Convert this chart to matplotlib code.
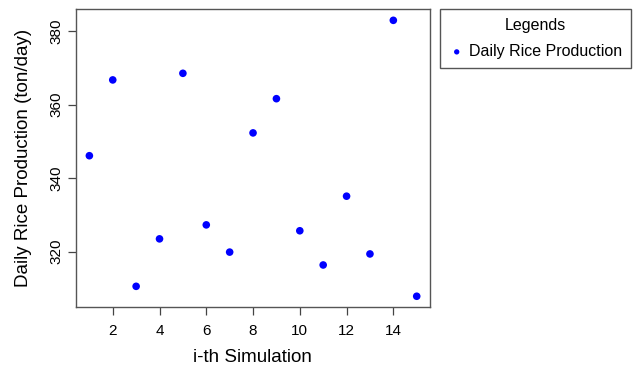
import numpy as np
import matplotlib
matplotlib.use("Agg")
from matplotlib import pyplot as plt

# data
simulation = list(range(1, 16))
production = [346.1, 366.7, 310.6, 323.5, 368.5, 327.3, 319.9, 352.3,
              361.6, 325.7, 316.4, 335.1, 319.4, 382.9, 307.9]
x_ticks = [2, 4, 6, 8, 10, 12, 14]
y_ticks = [320, 340, 360, 380]

plt.rcParams['font.family'] = ['Liberation Sans', 'DejaVu Sans']

fig = plt.figure(figsize=(6.33, 3.67), dpi=100)
ax = fig.add_axes([0.1205, 0.1627, 0.5585, 0.812])

ax.scatter(simulation, production, s=30, color='#0000ff', edgecolors='none',
           label='Daily Rice Production', zorder=3)

# R-style 4% padding
xr = max(simulation) - min(simulation)
yr = max(production) - min(production)
ax.set_xlim(min(simulation) - 0.04 * xr, max(simulation) + 0.04 * xr)
ax.set_ylim(min(production) - 0.04 * yr, max(production) + 0.04 * yr)

ax.set_xticks(x_ticks)
ax.set_yticks(y_ticks)
ax.tick_params(axis='both', direction='out', length=5.5, width=0.9,
               color='#444444', labelsize=11)
ax.tick_params(axis='x', pad=6.5)
ax.tick_params(axis='y', pad=4)
for lbl in ax.get_yticklabels():
    lbl.set_rotation(90)
    lbl.set_va('center')
for sp in ax.spines.values():
    sp.set_color('#555555')
    sp.set_linewidth(1.0)

ax.set_xlabel('i-th Simulation', fontsize=13.5, va='center')
ax.set_ylabel('Daily Rice Production (ton/day)', fontsize=13.5, va='center')
ax.xaxis.set_label_coords(0.497, -0.167)
ax.yaxis.set_label_coords(-0.15, 0.50)

leg = fig.legend(loc='upper left', bbox_to_anchor=(0.695, 0.975),
                 borderaxespad=0, title='Legends', fontsize=11.5,
                 title_fontsize=11.5, fancybox=False, framealpha=1,
                 edgecolor='#555555', markerscale=0.7, handletextpad=0.25,
                 handlelength=1.0, borderpad=0.55, labelspacing=0.6)
leg.get_frame().set_linewidth(1.0)
leg._legend_box.sep = 8

fig.savefig('out.png', dpi=100)
